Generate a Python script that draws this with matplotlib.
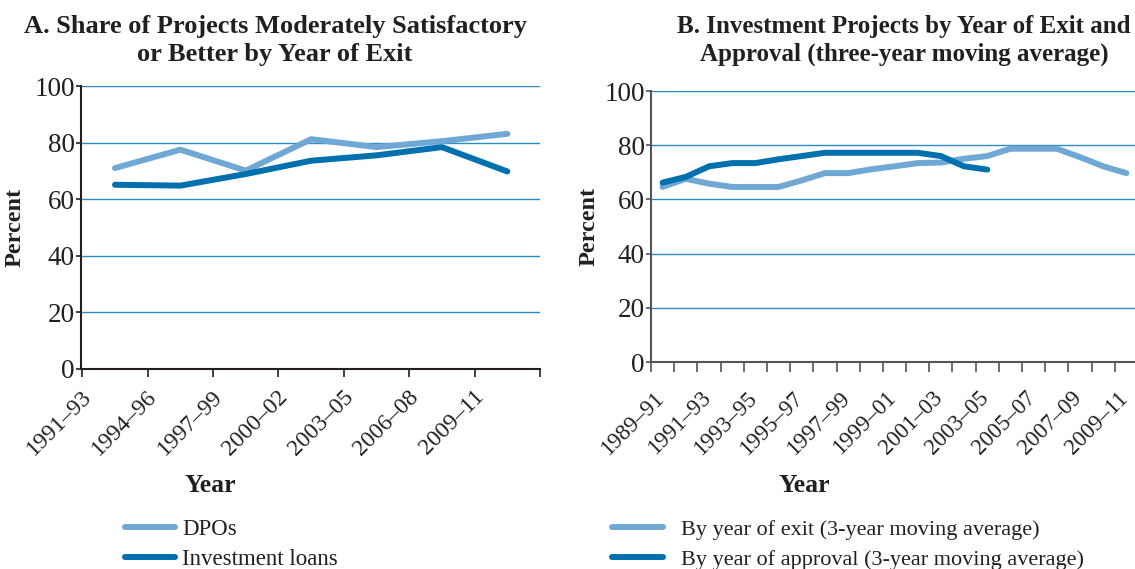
import numpy as np
import matplotlib
matplotlib.use('Agg')
import matplotlib.pyplot as plt

# global settings
params = {
    'font.family': ['Liberation Serif', 'DejaVu Serif'],
    'text.color': '#231f20',
    'axes.labelcolor': '#231f20',
    'xtick.color': '#231f20',
    'ytick.color': '#231f20',
    'figure.figsize': [11.35, 5.69],
    'figure.dpi': 100,
}
plt.rcParams.update(params)

light_blue = '#6fa8d4'
dark_blue = '#0070ae'
grid_blue = '#2b8cc4'

# panel A data
a_years = ['1991\u201393', '1994\u201396', '1997\u201399', '2000\u201302',
           '2003\u201305', '2006\u201308', '2009\u201311']
a_dpos = [71.0, 77.5, 70.1, 81.2, 78.4, 80.5, 83.1]
a_loans = [65.1, 64.8, 68.9, 73.6, 75.5, 78.4, 69.8]

# panel B data
b_years = ['1989\u201391', '1990\u201392', '1991\u201393', '1992\u201394', '1993\u201395',
           '1994\u201396', '1995\u201397', '1996\u201398', '1997\u201399', '1998\u201300',
           '1999\u201301', '2000\u201302', '2001\u201303', '2002\u201304', '2003\u201305',
           '2004\u201306', '2005\u201307', '2006\u201308', '2007\u201309', '2008\u201310',
           '2009\u201311']
b_exit = [64.6, 67.6, 65.8, 64.6, 64.6, 64.6, 67.0, 69.7, 69.7, 71.1, 72.2,
          73.4, 73.6, 75.0, 76.0, 78.7, 78.7, 78.7, 75.6, 72.2, 69.7]
b_approval = [66.2, 68.3, 72.2, 73.4, 73.4, 74.8, 76.0, 77.2, 77.2, 77.2, 77.2,
              77.2, 76.0, 72.2, 71.0]


def style_axes(ax, spine_color, xlab_size, xlab_pad, xtick_len):
    ax.set_ylim(0, 100)
    ax.set_yticks([0, 20, 40, 60, 80, 100])
    for y in [20, 40, 60, 80, 100]:
        ax.axhline(y, color=grid_blue, lw=1.0, zorder=1)
    ax.spines['top'].set_visible(False)
    ax.spines['right'].set_visible(False)
    ax.spines['left'].set_color(spine_color)
    ax.spines['bottom'].set_color(spine_color)
    ax.spines['left'].set_linewidth(1.5)
    ax.spines['bottom'].set_linewidth(1.5)
    ax.tick_params(axis='y', length=3.6, width=1.2, color=spine_color,
                   labelsize=19.5, pad=1)
    ax.tick_params(axis='x', which='major', length=xtick_len, width=1.2,
                   color=spine_color, labelbottom=False)
    ax.tick_params(axis='x', which='minor', length=0, labelsize=xlab_size,
                   pad=xlab_pad)
    ax.set_ylabel('Percent', fontsize=17.5, fontweight='bold')
    ax.set_xlabel('Year', fontsize=18.5, fontweight='bold')


fig = plt.figure()

# A
ax1 = fig.add_axes([81 / 1135, 200 / 569, 459 / 1135, 283 / 569])
x = np.arange(len(a_years)) + 0.5
ax1.plot(x, a_dpos, color=light_blue, lw=4.3, solid_capstyle='round',
         label='DPOs', zorder=3)
ax1.plot(x, a_loans, color=dark_blue, lw=4.3, solid_capstyle='round',
         label='Investment loans', zorder=3)
ax1.set_xlim(0, len(a_years))
ax1.set_xticks(np.arange(len(a_years) + 1))
ax1.set_xticks(np.arange(len(a_years)) - 0.02, minor=True)
ax1.set_xticklabels(a_years, minor=True, rotation=45, ha='right',
                    va='top', rotation_mode='anchor')
style_axes(ax1, '#231f20', 17, 12.5, 5.5)
ax1.yaxis.set_label_coords(-0.12, 0.5)
ax1.xaxis.set_label_coords(0.281, -0.37)
fig.text(275 / 1135, 1 - 15 / 569,
         'A. Share of Projects Moderately Satisfactory\nor Better by Year of Exit',
         ha='center', va='top', fontsize=19, fontweight='bold', linespacing=1.25)
ax1.legend(loc='upper left', bbox_to_anchor=(125 / 1135, 1 - 519 / 569),
           bbox_transform=fig.transFigure, frameon=False, fontsize=16.5,
           handlelength=2.2, handletextpad=0.3, labelspacing=0.4,
           borderpad=0, borderaxespad=0)

# B
ax2 = fig.add_axes([651 / 1135, 207 / 569, 487 / 1135, 271 / 569])
x = np.arange(len(b_years)) + 0.5
ax2.plot(x, b_exit, color=light_blue, lw=4.3, solid_capstyle='round',
         label='By year of exit (3-year moving average)', zorder=3)
ax2.plot(x[:len(b_approval)], b_approval, color=dark_blue, lw=4.3,
         solid_capstyle='round',
         label='By year of approval (3-year moving average)', zorder=3)
ax2.set_xlim(0, len(b_years))
ax2.set_xticks(np.arange(len(b_years) + 1))
ax2.set_xticks(np.arange(0, len(b_years), 2) + 0.11, minor=True)
ax2.set_xticklabels(b_years[::2], minor=True, rotation=45, ha='right',
                    va='top', rotation_mode='anchor')
style_axes(ax2, '#555555', 16.5, 18.5, 7)
ax2.yaxis.set_label_coords(-0.106, 0.5)
ax2.xaxis.set_label_coords(0.314, -0.413)
fig.text(904 / 1135, 1 - 15 / 569,
         'B. Investment Projects by Year of Exit and\nApproval (three-year moving average)',
         ha='center', va='top', fontsize=18, fontweight='bold', linespacing=1.25)
ax2.legend(loc='upper left', bbox_to_anchor=(612 / 1135, 1 - 519 / 569),
           bbox_transform=fig.transFigure, frameon=False, fontsize=16,
           handlelength=2.3, handletextpad=0.8, labelspacing=0.45,
           borderpad=0, borderaxespad=0)

plt.savefig('out.png')
